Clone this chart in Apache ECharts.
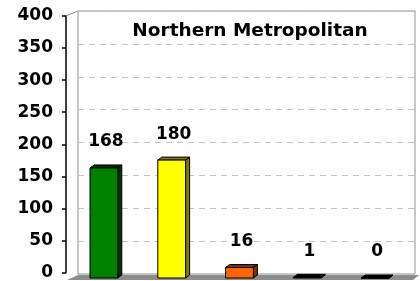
<!DOCTYPE html>
<html>
<head>
<meta charset="utf-8">
<script src="https://cdn.jsdelivr.net/npm/echarts@6/dist/echarts.min.js"></script>
<style>
html, body { margin: 0; padding: 0; background: #fff; }
#main { width: 420px; height: 281px; }
</style>
</head>
<body>
<div id="main"></div>
<script>
var chartTitle = 'Northern Metropolitan';
var categories = ['1', '2', '3', '4', '5'];
var values = [168, 180, 16, 1, 0];
var yMin = 0, yMax = 400, yStep = 50;

// front / side colours per bar
var fronts = ['#008000', '#ffff00', '#ff6600', '#000000', '#000000'];
var sides = ['#003300', '#808000', '#803000', '#000000', '#000000'];

var myChart = echarts.init(document.getElementById('main'));

function renderBar(params, api) {
	var i = params.dataIndex;
	var x = api.value(0), v = api.value(1);
	var base = api.coord([x, 0]);
	var top = api.coord([x, v]);
	var w = api.size([1, 0])[0] * 0.41;
	var l = base[0] - w / 2, r = base[0] + w / 2;
	var d = 4, e = 3;
	var t = top[1], b = base[1];
	return {
		type: 'group',
		children: [{
			type: 'polygon',
			shape: { points: [[r, b], [r + d, b - e], [r + d, t - e], [r, t]] },
			style: { fill: sides[i], stroke: '#000', lineWidth: 1 }
		}, {
			type: 'polygon',
			shape: { points: [[l, t], [l + d, t - e], [r + d, t - e], [r, t]] },
			style: { fill: sides[i], stroke: '#000', lineWidth: 1 }
		}, {
			type: 'rect',
			shape: { x: l, y: t, width: w, height: b - t },
			style: { fill: fronts[i], stroke: '#000', lineWidth: 1 }
		}, {
			type: 'text',
			style: {
				text: String(v), x: base[0] + 2, y: t - 26,
				align: 'center', verticalAlign: 'middle',
				fill: '#000', font: 'bold 17px "DejaVu Sans"'
			}
		}]
	};
}

var option = {
	animation: false,
	backgroundColor: '#fff',
	title: {
		text: chartTitle, left: 245, top: 17, textAlign: 'center',
		textStyle: { fontFamily: 'DejaVu Sans', fontWeight: 'bold', fontSize: 18.5, color: '#000' }
	},
	grid: [
		{ left: 66, top: 16, bottom: 3, width: 1 },
		{ left: 78, top: 11, right: 5, bottom: 7, show: true, borderColor: '#909090', borderWidth: 1 },
		{ left: 70, top: 16, right: 11, bottom: 3 }
	],
	xAxis: [
		{ gridIndex: 0, type: 'value', show: false },
		{ gridIndex: 1, type: 'value', show: false },
		{ gridIndex: 2, type: 'category', data: categories, show: false }
	],
	yAxis: [{
		gridIndex: 0, min: yMin, max: yMax, interval: yStep,
		axisLine: { show: true, lineStyle: { color: '#000', width: 1.5 } },
		axisTick: { show: true, length: 4, lineStyle: { color: '#000', width: 1.5 } },
		axisLabel: { margin: 13, color: '#000', fontFamily: 'DejaVu Sans', fontWeight: 'bold', fontSize: 17 },
		splitLine: { show: false }
	}, {
		gridIndex: 1, min: yMin, max: yMax, interval: yStep,
		axisLine: { show: false }, axisTick: { show: false }, axisLabel: { show: false },
		splitLine: { show: true, lineStyle: { color: '#c4c4c4', type: [6, 5], width: 1 } }
	}, {
		gridIndex: 2, min: yMin, max: yMax, show: false, splitLine: { show: false }
	}],
	graphic: [{
		type: 'polygon', z: 1,
		shape: { points: [[67, 280], [78, 275], [419, 275], [413, 280]] },
		style: { fill: '#8c8c8c' }
	}, {
		type: 'line', z: 1,
		shape: { x1: 66, y1: 16, x2: 78, y2: 11 },
		style: { stroke: '#909090', lineWidth: 1 }
	}],
	series: [{
		type: 'custom',
		xAxisIndex: 2, yAxisIndex: 2,
		z: 5,
		renderItem: renderBar,
		data: categories.map(function (c, i) { return [i, values[i]]; })
	}]
};
myChart.setOption(option);
</script>
</body>
</html>
